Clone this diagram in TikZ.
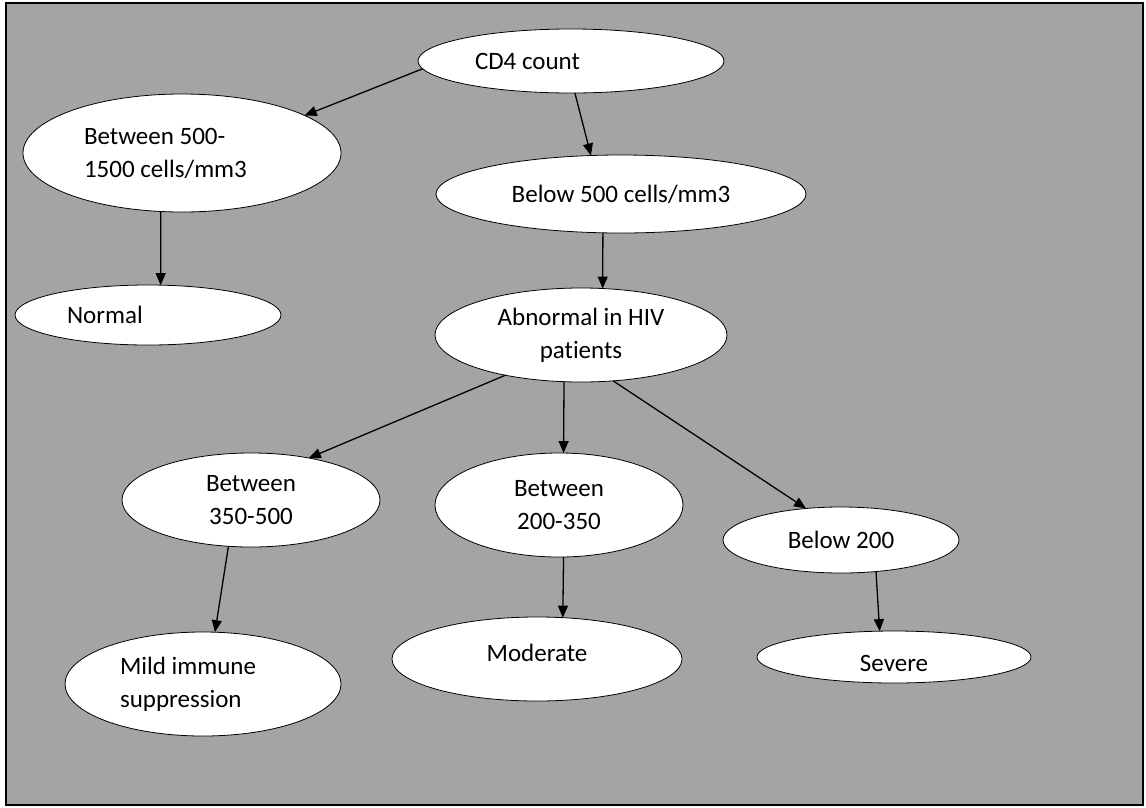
\documentclass[tikz,border=0pt]{standalone}
\usepackage{fontspec}
\setmainfont{Carlito}[Ligatures=NoCommon]
\usetikzlibrary{shapes.geometric,arrows.meta}
\definecolor{bggray}{RGB}{164,164,164}

\begin{document}
\begin{tikzpicture}[>={Triangle[length=12pt,width=10pt]}, x=1pt, y=-1pt,
    bubble/.style={draw, ellipse, fill=white, line width=0.8pt, inner sep=0pt,
                   outer sep=0pt, font=\fontsize{25}{33}\selectfont},
    link/.style={->, line width=1.3pt}]

    % Draw background panel
    \useasboundingbox (0,0) rectangle (1146,807);
    \draw[fill=bggray, line width=1.5pt] (6,3) rectangle (1143,805);

    % Draw top of the tree
    \node[bubble, minimum width=306pt, minimum height=64pt, text width=192pt, align=flush left]
        (cd4) at (571,61) {CD4 count};
    \node[bubble, minimum width=318pt, minimum height=118pt, text width=196pt, align=flush left]
        (high) at (182,153) {Between 500-\\1500 cells/mm3};
    \node[bubble, minimum width=370pt, minimum height=78pt, align=center]
        (low) at (621,194) {Below 500 cells/mm3};

    % Draw second level
    \node[bubble, minimum width=266pt, minimum height=60pt, text width=162pt, align=flush left]
        (normal) at (148,315) {Normal};
    \node[bubble, minimum width=292pt, minimum height=94pt, align=center]
        (abnormal) at (581,335) {Abnormal in HIV\\patients};

    % Draw ranges
    \node[bubble, minimum width=258pt, minimum height=94pt, align=center]
        (mid) at (251,500) {Between\\350-500};
    \node[bubble, minimum width=248pt, minimum height=104pt, align=center]
        (lower) at (559,505) {Between\\200-350};
    \node[bubble, minimum width=236pt, minimum height=66pt, align=center]
        (lowest) at (841,540) {Below 200};

    % Draw outcomes
    \node[bubble, minimum width=276pt, minimum height=104pt, text width=166pt, align=flush left]
        (mild) at (203,684) {Mild immune\\suppression};
    \node[bubble, minimum width=290pt, minimum height=84pt, align=center]
        (moderate) at (537,659) {\raisebox{6pt}[\height][\depth]{Moderate}};
    \node[bubble, minimum width=274pt, minimum height=52pt, align=center]
        (severe) at (894,657) {\raisebox{-6pt}[\height][\depth]{Severe}};

    % Draw arrows
    \draw[link] (cd4.183) -- (high.17);
    \draw[link] (cd4.-83) -- (low.128.5);
    \draw[link] (high.-110) -- (normal.67.5);
    \draw[link] (low.-115) -- (abnormal.65.4);
    \draw[link] (abnormal.208) -- (mid.36);
    \draw[link] (abnormal.-110.6) -- (lower.85.6);
    \draw[link] (abnormal.-55.5) -- (lowest.138);
    \draw[link] (mid.-116.6) -- (mild.77);
    \draw[link] (lower.-85.7) -- (moderate.58);
    \draw[link] (lowest.-42.6) -- (severe.119);

\end{tikzpicture}
\end{document}
